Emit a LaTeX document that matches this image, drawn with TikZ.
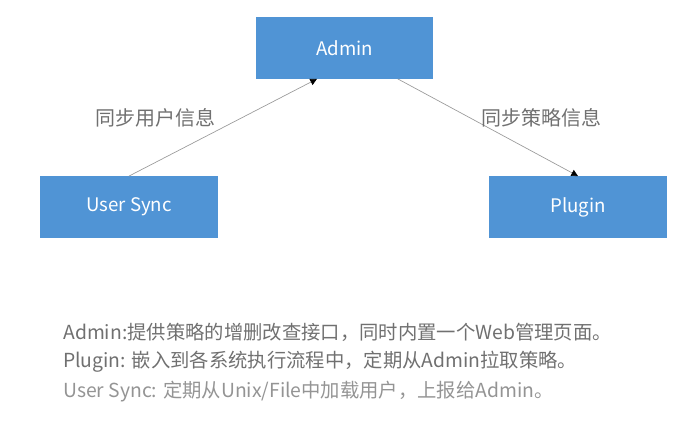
\documentclass[tikz,border=0pt]{standalone}
\usepackage{fontspec}
\setmainfont{Noto Sans CJK SC}
\usetikzlibrary{arrows.meta,positioning,calc}

\definecolor{boxblue}{HTML}{5094D5}
\definecolor{notegray}{HTML}{707070}

\begin{document}
\begin{tikzpicture}[
    x=0.75pt, y=-0.75pt,
    module/.style={rectangle, fill=boxblue, minimum width=133pt, minimum height=46pt, inner sep=0pt, text=white, font=\fontsize{14}{16}\selectfont},
    arrow/.style={-{Triangle[length=5pt,width=5pt,black]}, gray!80, line width=0.5pt},
    edgelabel/.style={text=notegray, font=\fontsize{15}{17}\selectfont},
    note/.style={anchor=west, inner sep=0pt, text=notegray, font=\fontsize{14.5}{17}\selectfont}
]

\useasboundingbox (0,0) rectangle (688,444);

% Modules
\node[module] (admin) at (344.5, 48) {Admin};
\node[module] (usersync) at (129, 207) {User Sync};
\node[module] (plugin) at (578, 207) {Plugin};

% Arrows
\draw[arrow] (usersync.north) -- ($(admin.south west)!0.345!(admin.south east)$);
\draw[arrow] ($(admin.south west)!0.8!(admin.south east)$) -- (plugin.north);

% Arrow labels
\node[edgelabel] (synuser) at (155, 118) {同步用户信息};
\node[edgelabel] (synpolicy) at (541, 118) {同步策略信息};

% Notes
\node[note] (noteadmin) at (63, 332) {Admin:提供策略的增删改查接口，同时内置一个Web管理页面。};
\node[note] (noteplugin) at (63, 362) {Plugin: 嵌入到各系统执行流程中，定期从Admin拉取策略。};
\node[note, text=notegray!75] (notesync) at (63, 392) {User Sync: 定期从Unix/File中加载用户，上报给Admin。};

\end{tikzpicture}
\end{document}
